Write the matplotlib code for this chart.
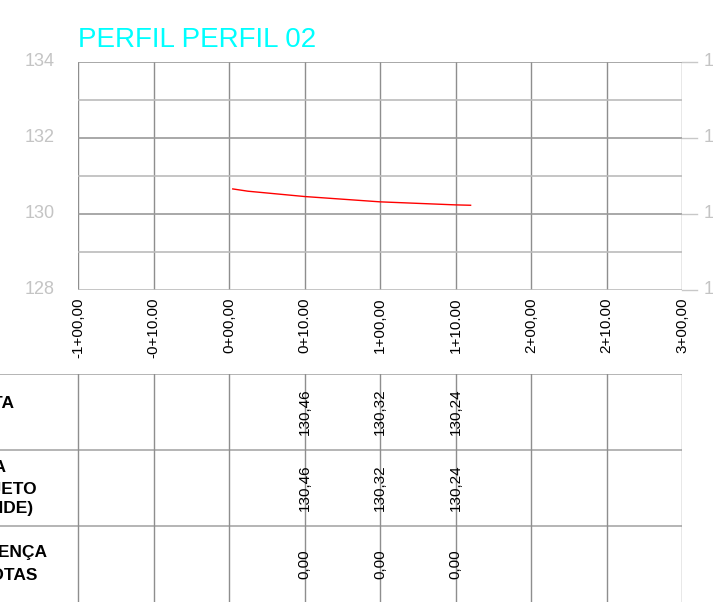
import matplotlib
matplotlib.use("Agg")
import matplotlib.pyplot as plt
from matplotlib import font_manager

# station positions (m) and their labels
stations = [-20, -10, 0, 10, 20, 30, 40, 50, 60]
station_labels = ["-1+00,00", "-0+10.00", "0+00,00", "0+10.00", "1+00,00",
                  "1+10.00", "2+00,00", "2+10.00", "3+00,00"]

# grade line of the profile
dist = [0.5, 2.5, 10, 15, 20, 25, 30, 32]
elev = [130.66, 130.60, 130.46, 130.39, 130.32, 130.28, 130.24, 130.23]

# table rows (one value per labelled station)
table_stations = [10, 20, 30]
cota_terreno = [130.46, 130.32, 130.24]
cota_projeto = [130.46, 130.32, 130.24]
diferenca = [0.00, 0.00, 0.00]

names = {f.name for f in font_manager.fontManager.ttflist}
narrow = "Liberation Sans Narrow" if "Liberation Sans Narrow" in names else "Liberation Sans"
plt.rcParams["font.family"] = [narrow, "DejaVu Sans"]

W, H = 713, 602
fig = plt.figure(figsize=(W / 100, H / 100), dpi=100)

x0, x1 = 78, 682
y_top, y_bot = 62, 290
ax = fig.add_axes([x0 / W, 1 - y_bot / H, (x1 - x0) / W, (y_bot - y_top) / H])
ax.set_xlim(-20, 60)
ax.set_ylim(128, 134)
ax.axis("off")

for v in stations:
    ax.axvline(v, color="#8e8e8e", lw=1.0, zorder=1)
for e in range(128, 135):
    c = "#9a9a9a" if e % 2 == 0 and e != 128 else "#bbbbbb"
    ax.axhline(e, color=c, lw=1.2, zorder=1)

ax.plot(dist, elev, color="red", lw=1.0, zorder=3)

# elevation labels, both sides
for e in [128, 130, 132, 134]:
    ax.annotate(str(e), (-20, e), xytext=(-17, 0), textcoords="offset points",
                ha="right", va="center", fontsize=13, color="#c4c4c4")
    ax.plot([60, 62], [e, e], color="#c8c8c8", lw=1.0, clip_on=False)
    ax.text(62.8, e, str(e), ha="left", va="center", fontsize=13,
            color="#c4c4c4", clip_on=False)

for v, lab in zip(stations, station_labels):
    ax.text(v, 127.8, lab, rotation=90, ha="center", va="top", fontsize=11,
            color="black", clip_on=False)

fig.text(x0 / W, 1 - 47 / H, "PERFIL PERFIL 02", color="#00ffff",
         fontsize=20, ha="left", va="baseline")

# data table under the profile
px_per_m = (x1 - x0) / 80.0
t_top = 374
tax = fig.add_axes([0, 0, x1 / W, (H - t_top) / H])
tax.set_xlim(-20 - x0 / px_per_m, 60)
tax.set_ylim(0, 3)
tax.axis("off")
for r in [1, 2, 3]:
    tax.axhline(r, color="#a8a8a8", lw=1.2)
for v in stations:
    tax.axvline(v, color="#8e8e8e", lw=1.0)

rows = [(2.5, cota_terreno), (1.5, cota_projeto), (0.5, diferenca)]
for yc, vals in rows:
    for s, val in zip(table_stations, vals):
        tax.text(s, yc, f"{val:.2f}".replace(".", ","), rotation=90,
                 ha="center", va="center", fontsize=11, color="black")

# row titles (partly beyond the left edge)
row_titles = [
    ("COTA", 14, 403),
    ("COTA", 6, 468),
    ("PROJETO", 37, 489),
    ("(GREIDE)", 33, 508),
    ("DIFERENÇA", 48, 552),
    ("DE COTAS", 37, 575),
]
for txt, xr, yc in row_titles:
    fig.text(xr / W, 1 - yc / H, txt, ha="right", va="center", fontsize=12.5,
             fontweight="bold", color="black")

fig.savefig("out.png", dpi=100)
